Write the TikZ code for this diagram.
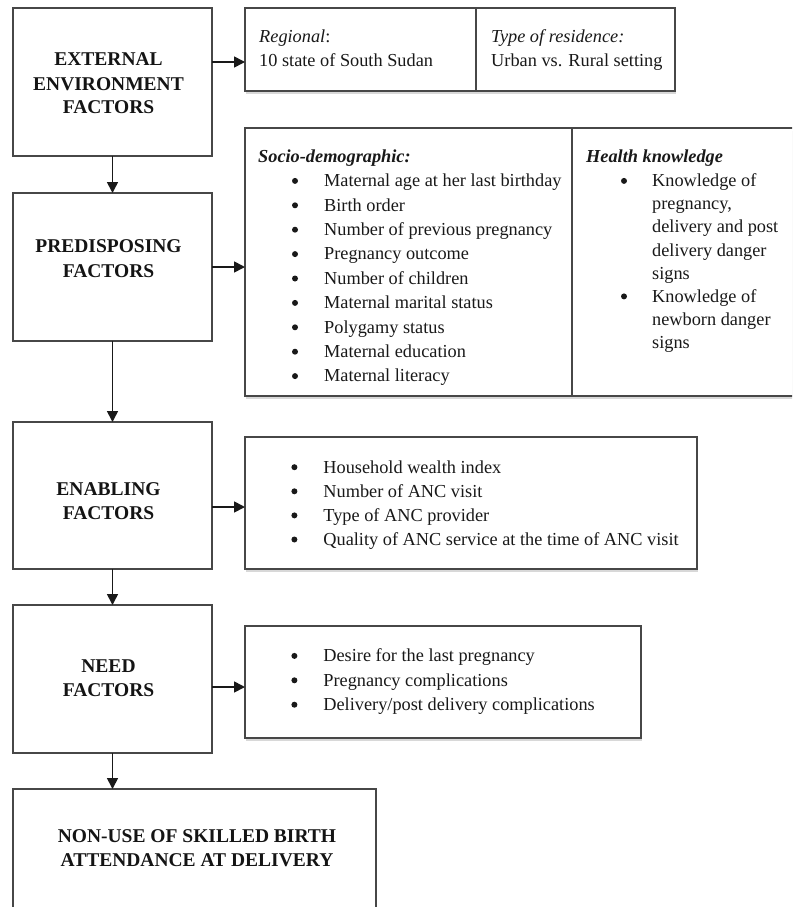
\documentclass[tikz,border=0pt]{standalone}
\usepackage{fontspec}
\setmainfont{Liberation Serif}
\usetikzlibrary{arrows.meta,shadows}

\tikzset{
  frame/.style={draw=black!72, line width=1.3pt, fill=white, inner sep=0pt, outer sep=0pt},
  listframe/.style={frame, drop shadow={shadow xshift=1pt, shadow yshift=-2.5pt, opacity=.3}},
  flow/.style={draw=black!90, line width=1.7pt, -{Triangle[length=11pt,width=11pt]}},
  head/.style={font=\fontsize{19.5}{24}\selectfont\bfseries, text=black!92, inner sep=0pt, anchor=base},
  itemtxt/.style={font=\fontsize{18.3}{24}\selectfont, text=black!90, inner sep=0pt, anchor=base west},
  dot/.style={circle, fill=black!90, inner sep=0pt, minimum size=6pt},
}

\begin{document}
\begin{tikzpicture}[x=1pt,y=-1pt]
\path[fill=white, use as bounding box] (0,0) rectangle (792,907);
\clip (0,0) rectangle (792,907);

% ---------- factor boxes (left column) ----------
\node[frame, minimum width=199pt, minimum height=148pt] (ext)  at (112.5,82)    {};
\node[frame, minimum width=199pt, minimum height=148pt] (pre)  at (112.5,267)   {};
\node[frame, minimum width=199pt, minimum height=147pt] (enab) at (112.5,495.5) {};
\node[frame, minimum width=199pt, minimum height=148pt] (need) at (112.5,679)   {};
\node[frame, minimum width=363pt, minimum height=161pt] (out)  at (194.5,869.5) {};

% ---------- detail boxes (right column) ----------
\node[listframe, minimum width=430pt, minimum height=83pt]  (env)   at (460,49.5) {};
\node[listframe, minimum width=555pt, minimum height=268pt] (socio) at (522.5,262) {};
\node[listframe, minimum width=452pt, minimum height=132pt] (elist) at (471,503)  {};
\node[listframe, minimum width=396pt, minimum height=112pt] (nlist) at (443,682)  {};

% column dividers inside the split boxes
\draw[draw=black!72, line width=1.3pt] ([xshift=231pt]env.north west) -- ([xshift=231pt]env.south west);
\draw[draw=black!72, line width=1.3pt] ([xshift=327pt]socio.north west) -- ([xshift=327pt]socio.south west);

% ---------- headings in the factor boxes ----------
\node[head] (ext1) at (108.5,66)   {EXTERNAL};
\node[head] (ext2) at (108.5,90)   {ENVIRONMENT};
\node[head] (ext3) at (108.5,113.5){FACTORS};
\node[head] (pre1) at (108.5,252)  {PREDISPOSING};
\node[head] (pre2) at (108.5,277)  {FACTORS};
\node[head] (ena1) at (108.5,495)  {ENABLING};
\node[head] (ena2) at (108.5,519)  {FACTORS};
\node[head] (nee1) at (108.5,672.7){NEED};
\node[head] (nee2) at (108.5,696.7){FACTORS};
\node[head] (out1) at (197,842)    {NON-USE OF SKILLED BIRTH};
\node[head] (out2) at (197,866.5)  {ATTENDANCE AT DELIVERY};

% ---------- external environment details ----------
\node[itemtxt] (reg1) at (259,43)   {\textit{Regional}:};
\node[itemtxt] (reg2) at (259,66.5) {10 state of South Sudan};
\node[itemtxt] (res1) at (491,43)   {\textit{Type of residence:}};
\node[itemtxt] (res2) at (491,66.5) {Urban vs. Rural setting};

% ---------- predisposing details ----------
\node[itemtxt] (sochd) at (258,162) {\textbf{\textit{Socio-demographic:}}};
\foreach \t [count=\i] in {Maternal age at her last birthday, Birth order,
    Number of previous pregnancy, Pregnancy outcome, Number of children,
    Maternal marital status, Polygamy status, Maternal education, Maternal literacy} {
  \node[dot]     (sb\i) at (295,{186.7+24.4*(\i-1)-5.8}) {};
  \node[itemtxt] (st\i) at (324,{186.7+24.4*(\i-1)}) {\t};
}
\node[itemtxt] (hkhd) at (586,162) {\textbf{\textit{Health knowledge}}};
\foreach \t [count=\i] in {Knowledge of, {pregnancy,}, delivery and post,
    delivery danger, signs, Knowledge of, newborn danger, signs} {
  \node[itemtxt] (ht\i) at (652,{186.7+23.1*(\i-1)}) {\t};
}
\node[dot] (hb1) at (624,180.9) {};
\node[dot] (hb2) at (624,296.4) {};

% ---------- enabling details ----------
\foreach \t [count=\i] in {Household wealth index, Number of ANC visit,
    Type of ANC provider, Quality of ANC service at the time of ANC visit} {
  \node[dot]     (eb\i) at (294.4,{473+24.1*(\i-1)-5.8}) {};
  \node[itemtxt] (et\i) at (323.2,{473+24.1*(\i-1)}) {\t};
}

% ---------- need details ----------
\foreach \t [count=\i] in {Desire for the last pregnancy, Pregnancy complications,
    Delivery/post delivery complications} {
  \node[dot]     (nb\i) at (294.4,{661.7+24.4*(\i-1)-5.8}) {};
  \node[itemtxt] (nt\i) at (323.2,{661.7+24.4*(\i-1)}) {\t};
}

% ---------- connectors ----------
\coordinate (a1) at ([yshift=20pt]ext.east);
\coordinate (a3) at ([yshift=-11.5pt]enab.east);
\coordinate (a4) at ([yshift=-8pt]need.east);
\draw[flow] (a1) -- (a1 -| env.west);
\draw[flow] (pre.east) -- (pre.east -| socio.west);
\draw[flow] (a3) -- (a3 -| elist.west);
\draw[flow] (a4) -- (a4 -| nlist.west);

\draw[flow] (ext.south)  -- (pre.north);
\draw[flow] (pre.south)  -- (enab.north);
\draw[flow] (enab.south) -- (need.north);
\draw[flow] (need.south) -- (need.south |- out.north);
\end{tikzpicture}
\end{document}
